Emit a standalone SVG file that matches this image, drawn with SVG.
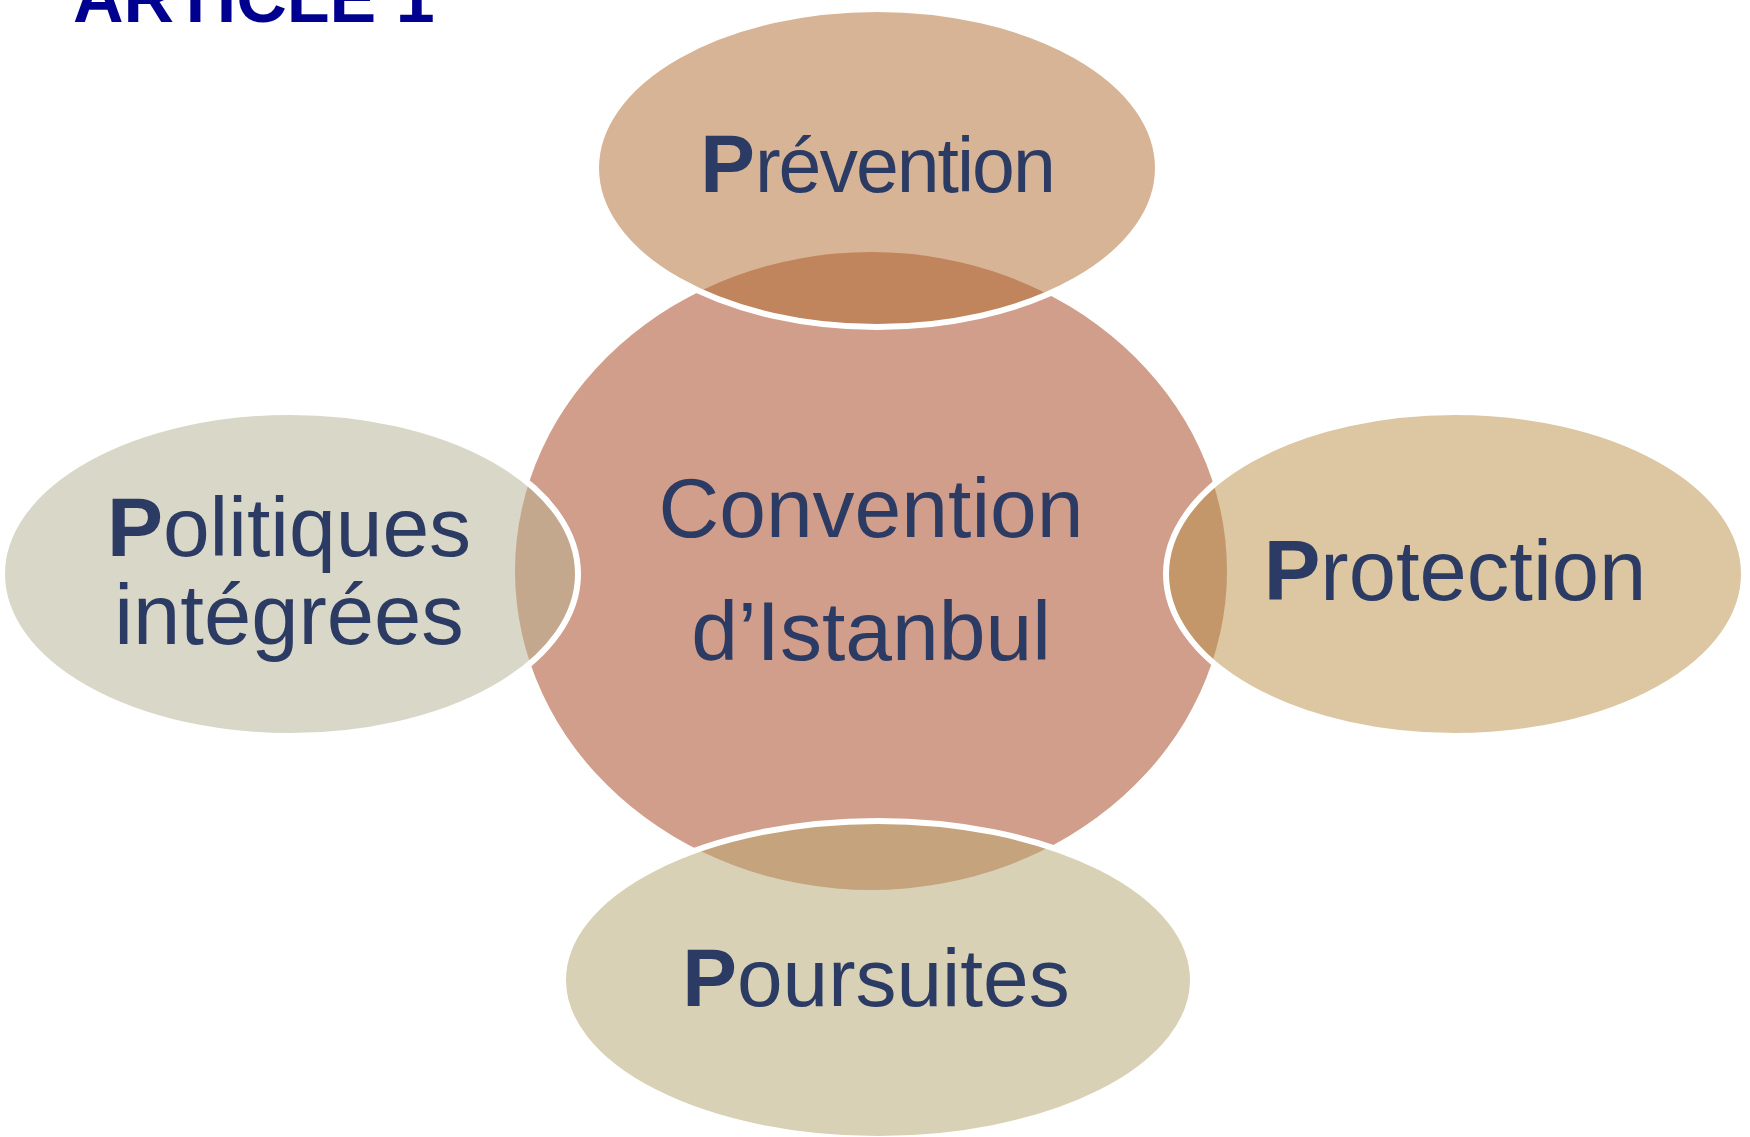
<svg xmlns="http://www.w3.org/2000/svg" width="1750" height="1137" viewBox="0 0 1750 1137">
<style>
.lbl{font-family:"Liberation Sans",Arial,sans-serif;fill:#2C3B63;}
.b{font-weight:bold;}
.ring{fill:none;stroke:#FFFFFF;stroke-width:6;}
</style>
<defs>
<clipPath id="cc"><ellipse cx="871" cy="571" rx="356" ry="319"/></clipPath>
</defs>
<rect width="1750" height="1137" fill="#FFFFFF"/>
<text x="73" y="22" font-family="Liberation Sans, Arial, sans-serif" font-size="70" font-weight="bold" fill="#000090">ARTICLE 1</text>
<g id="center">
<ellipse cx="871" cy="571" rx="356" ry="319" fill="#D09E8A"/>
</g>
<g id="prevention">
<ellipse cx="877" cy="168" rx="281" ry="159" fill="#D8B496"/>
<ellipse cx="877" cy="168" rx="281" ry="159" fill="#C0855C" clip-path="url(#cc)"/>
<ellipse class="ring" cx="877" cy="168" rx="281" ry="159"/>
<text class="lbl" x="877" y="192" text-anchor="middle"><tspan class="b" font-size="82">P</tspan><tspan font-size="77" letter-spacing="-2">révention</tspan></text>
</g>
<g id="politiques">
<ellipse cx="290" cy="574" rx="288" ry="162" fill="#D9D7C7"/>
<ellipse cx="290" cy="574" rx="288" ry="162" fill="#C4A88E" clip-path="url(#cc)"/>
<ellipse class="ring" cx="290" cy="574" rx="288" ry="162"/>
<text class="lbl" x="289" y="556" text-anchor="middle" font-size="84"><tspan class="b">P</tspan>olitiques</text>
<text class="lbl" x="289" y="644" text-anchor="middle" font-size="85">intégrées</text>
</g>
<g id="protection">
<ellipse cx="1455" cy="574" rx="289" ry="162" fill="#DCC7A2"/>
<ellipse cx="1455" cy="574" rx="289" ry="162" fill="#C4976A" clip-path="url(#cc)"/>
<ellipse class="ring" cx="1455" cy="574" rx="289" ry="162"/>
<text class="lbl" x="1455" y="600" text-anchor="middle" font-size="85"><tspan class="b">P</tspan>rotection</text>
</g>
<g id="poursuites">
<ellipse cx="878" cy="980" rx="315" ry="159" fill="#D9D1B5"/>
<ellipse cx="878" cy="980" rx="315" ry="159" fill="#C4A37D" clip-path="url(#cc)"/>
<ellipse class="ring" cx="878" cy="980" rx="315" ry="159"/>
<text class="lbl" x="876" y="1006" text-anchor="middle" font-size="82"><tspan class="b">P</tspan>oursuites</text>
</g>
<g id="center-label">
<text class="lbl" x="871" y="537" text-anchor="middle" font-size="84">Convention</text>
<text class="lbl" x="871" y="660" text-anchor="middle" font-size="84">d’Istanbul</text>
</g>
<g id="connectors"/>
</svg>
